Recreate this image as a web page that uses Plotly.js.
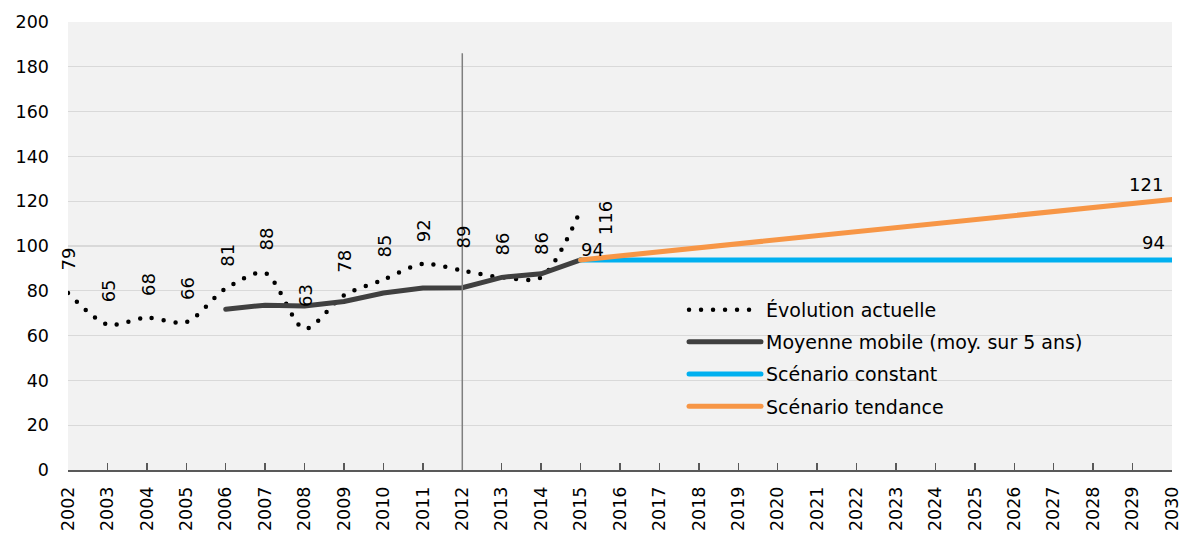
<!DOCTYPE html>
<html>
<head>
<meta charset="utf-8">
<script src="https://cdn.plot.ly/plotly-3.0.1.min.js"></script>
<style>
  html, body { margin: 0; padding: 0; background: #fff; }
  #chart { width: 1182px; height: 534px; }
  path.js-line { stroke-linecap: round; }
</style>
</head>
<body>
<div id="chart"></div>
<script>
// ---- Data ----
const actualYears = [2002, 2003, 2004, 2005, 2006, 2007, 2008, 2009, 2010, 2011, 2012, 2013, 2014, 2015];
const actualValues = [79, 65, 68, 66, 81, 88, 63, 78, 85, 92, 89, 86, 86, 116];

const movingYears = [2006, 2007, 2008, 2009, 2010, 2011, 2012, 2013, 2014, 2015];
const movingValues = [71.8, 73.6, 73.2, 75.2, 79, 81.2, 81.4, 86, 87.6, 93.8];

const scenarioYears = [2015, 2016, 2017, 2018, 2019, 2020, 2021, 2022, 2023, 2024, 2025, 2026, 2027, 2028, 2029, 2030];
const constantValues = [93.8, 93.8, 93.8, 93.8, 93.8, 93.8, 93.8, 93.8, 93.8, 93.8, 93.8, 93.8, 93.8, 93.8, 93.8, 93.8];
const trendValues = [93.8, 95.6, 97.4, 99.2, 101.0, 102.8, 104.6, 106.4, 108.2, 110.0, 111.8, 113.6, 115.4, 117.2, 119.0, 120.8];

const seriesNames = ["Évolution actuelle", "Moyenne mobile (moy. sur 5 ans)", "Scénario constant", "Scénario tendance"];
const separatorYear = 2012;
const separatorTop = 186;

const FONT = "DejaVu Sans, sans-serif";

const traces = [
  {
    x: actualYears, y: actualValues, name: seriesNames[0], type: "scatter", mode: "lines",
    line: { color: "#000000", width: 4.5, dash: "0px,12px", shape: "spline", smoothing: 0.8 },
    legendgroup: "a"
  },
  {
    x: movingYears, y: movingValues, name: seriesNames[1], type: "scatter", mode: "lines",
    line: { color: "#404040", width: 5 },
    legendgroup: "b"
  },
  {
    x: scenarioYears, y: constantValues, name: seriesNames[2], type: "scatter", mode: "lines",
    line: { color: "#00b0f0", width: 5 },
    legendgroup: "c"
  },
  {
    x: scenarioYears, y: trendValues, name: seriesNames[3], type: "scatter", mode: "lines",
    line: { color: "#f79646", width: 5 },
    legendgroup: "d"
  }
];

const annFont = { family: FONT, size: 18, color: "#000" };
const annotations = [];
actualYears.forEach((yr, i) => {
  const last = i === actualYears.length - 1;
  annotations.push({
    x: yr, y: actualValues[i], xref: "x", yref: "y",
    text: String(Math.round(actualValues[i])), showarrow: false, textangle: -90,
    font: annFont,
    xanchor: last ? "left" : "center",
    yanchor: last ? "middle" : "bottom",
    xshift: last ? 12 : 1,
    yshift: last ? -8 : 20
  });
});
// moving average label at its last point
annotations.push({
  x: movingYears[movingYears.length - 1], y: movingValues[movingValues.length - 1],
  xref: "x", yref: "y", text: String(Math.round(movingValues[movingValues.length - 1])),
  showarrow: false, font: annFont, xanchor: "left", yanchor: "bottom", xshift: -2, yshift: -2
});
// scenario end labels
annotations.push({
  x: scenarioYears[scenarioYears.length - 1], y: constantValues[constantValues.length - 1],
  xref: "x", yref: "y", text: String(Math.round(constantValues[constantValues.length - 1])),
  showarrow: false, font: annFont, xanchor: "right", yanchor: "bottom", xshift: -5, yshift: 5
});
annotations.push({
  x: scenarioYears[scenarioYears.length - 1], y: trendValues[trendValues.length - 1],
  xref: "x", yref: "y", text: String(Math.round(trendValues[trendValues.length - 1])),
  showarrow: false, font: annFont, xanchor: "right", yanchor: "bottom", xshift: -7, yshift: 2
});

const layout = {
  width: 1182, height: 534,
  margin: { l: 68, r: 10, t: 22, b: 64, pad: 0 },
  paper_bgcolor: "#ffffff",
  plot_bgcolor: "#f2f2f2",
  font: { family: FONT, size: 18, color: "#000" },
  showlegend: true,
  legend: {
    x: 0.558, y: 0.4, xanchor: "left", yanchor: "top",
    bgcolor: "rgba(0,0,0,0)", borderwidth: 0,
    font: { family: FONT, size: 19, color: "#000" },
    itemwidth: 72, traceorder: "grouped", tracegroupgap: 4.5
  },
  xaxis: {
    type: "linear", range: [2002, 2030], dtick: 1, tick0: 2002,
    showgrid: false, zeroline: false,
    showline: true, linecolor: "#595959", linewidth: 1.5,
    ticks: "inside", ticklen: 7, tickcolor: "#595959", tickwidth: 1.5,
    tickangle: -90, tickfont: { family: FONT, size: 17.5, color: "#000" },
    ticklabelstandoff: 8, ticklabeloverflow: "allow", fixedrange: true
  },
  yaxis: {
    range: [0, 200], dtick: 20, tick0: 0,
    showgrid: true, gridcolor: "#d9d9d9", gridwidth: 1.3,
    zeroline: false, showline: false, ticks: "",
    tickfont: { family: FONT, size: 17.5, color: "#000" },
    ticklabelstandoff: 18, fixedrange: true
  },
  shapes: [{
    type: "line", xref: "x", yref: "y",
    x0: separatorYear, x1: separatorYear, y0: 0, y1: separatorTop,
    line: { color: "#7f7f7f", width: 1.5 }
  }],
  annotations: annotations
};

Plotly.newPlot("chart", traces, layout, { displayModeBar: false, staticPlot: true });
</script>
</body>
</html>
